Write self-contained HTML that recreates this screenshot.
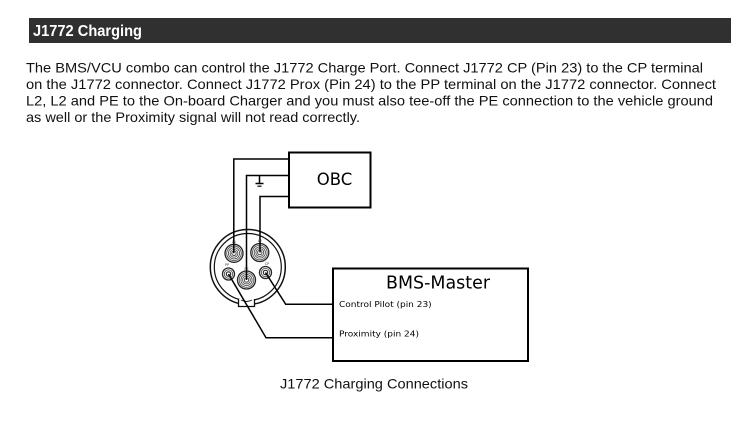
<!DOCTYPE html>
<html>
<head>
<meta charset="utf-8">
<style>
  html, body { margin: 0; padding: 0; background: #ffffff; }
  body { width: 755px; height: 435px; overflow: hidden; }
  svg { display: block; }
</style>
</head>
<body>
<svg width="755" height="435" viewBox="0 0 755 435" xmlns="http://www.w3.org/2000/svg">
  <rect x="0" y="0" width="755" height="435" fill="#ffffff"/>

  <!-- Header bar -->
  <rect x="29" y="18" width="702" height="25" fill="#303030"/>
  <text x="33" y="36" font-family="Liberation Sans, Arial, sans-serif" font-weight="bold" font-size="16" fill="#ffffff" textLength="109" lengthAdjust="spacingAndGlyphs">J1772 Charging</text>

  <!-- Body text -->
  <g font-family="Liberation Sans, Arial, sans-serif" font-size="14" fill="#111111">
    <text x="26" y="72.5" textLength="677" lengthAdjust="spacingAndGlyphs">The BMS/VCU combo can control the J1772 Charge Port. Connect J1772 CP (Pin 23) to the CP terminal</text>
    <text x="26" y="89" textLength="690" lengthAdjust="spacingAndGlyphs">on the J1772 connector. Connect J1772 Prox (Pin 24) to the PP terminal on the J1772 connector. Connect</text>
    <text x="26" y="105.5" textLength="687" lengthAdjust="spacingAndGlyphs">L2, L2 and PE to the On-board Charger and you must also tee-off the PE connection to the vehicle ground</text>
    <text x="26" y="122" textLength="334" lengthAdjust="spacingAndGlyphs">as well or the Proximity signal will not read correctly.</text>
  </g>

  <!-- OBC box -->
  <rect x="289" y="152.5" width="81.5" height="55" fill="#ffffff" stroke="#000" stroke-width="2"/>
  <text x="334.5" y="185" text-anchor="middle" font-family="DejaVu Sans, sans-serif" font-size="16.5" fill="#000">OBC</text>

  <!-- Connector body -->
  <circle cx="247.8" cy="267" r="37.5" fill="#ffffff" stroke="#111" stroke-width="1.5"/>
  <circle cx="247.8" cy="267" r="33.5" fill="none" stroke="#111" stroke-width="1.2"/>
  <!-- notch tab -->
  <path d="M238.5 299 L238.5 306.5 L254.5 306.5 L254.5 299" fill="#ffffff" stroke="#111" stroke-width="1.3"/>
  <path d="M241 300 Q246.5 303 252 300" fill="none" stroke="#111" stroke-width="0.9"/>

  <!-- Pins -->
  <g fill="#ffffff" stroke="#222">
    <!-- L1 -->
    <circle cx="234" cy="253.3" r="9" stroke-width="1.3"/>
    <circle cx="234" cy="253.3" r="7.3" stroke="#555" stroke-width="0.9"/>
    <circle cx="234" cy="253.3" r="5.6" stroke="#555" stroke-width="0.9"/>
    <circle cx="234" cy="253.3" r="3.9" stroke="#555" stroke-width="0.9"/>
    <circle cx="234" cy="253.3" r="2.2" stroke="#333" stroke-width="0.9"/>
    <!-- L2 -->
    <circle cx="259.8" cy="252.5" r="9" stroke-width="1.3"/>
    <circle cx="259.8" cy="252.5" r="7.3" stroke="#555" stroke-width="0.9"/>
    <circle cx="259.8" cy="252.5" r="5.6" stroke="#555" stroke-width="0.9"/>
    <circle cx="259.8" cy="252.5" r="3.9" stroke="#555" stroke-width="0.9"/>
    <circle cx="259.8" cy="252.5" r="2.2" stroke="#333" stroke-width="0.9"/>
    <!-- PE -->
    <circle cx="246.5" cy="280" r="9" stroke-width="1.3"/>
    <circle cx="246.5" cy="280" r="7.3" stroke="#555" stroke-width="0.9"/>
    <circle cx="246.5" cy="280" r="5.6" stroke="#555" stroke-width="0.9"/>
    <circle cx="246.5" cy="280" r="3.9" stroke="#555" stroke-width="0.9"/>
    <circle cx="246.5" cy="280" r="2.2" stroke="#333" stroke-width="0.9"/>
    <!-- PP -->
    <circle cx="228.5" cy="274" r="6" stroke-width="1.3"/>
    <circle cx="228.5" cy="274" r="4.2" stroke="#555" stroke-width="0.9"/>
    <circle cx="228.5" cy="274" r="2.2" stroke="#222" stroke-width="1.1"/>
    <!-- CP -->
    <circle cx="265.5" cy="272.5" r="6" stroke-width="1.3"/>
    <circle cx="265.5" cy="272.5" r="4.2" stroke="#555" stroke-width="0.9"/>
    <circle cx="265.5" cy="272.5" r="2.2" stroke="#222" stroke-width="1.1"/>
  </g>
  <!-- tiny pin labels -->
  <g font-family="DejaVu Sans, sans-serif" font-size="3.5" fill="#444" text-anchor="middle">
    <text x="234" y="243">L1</text>
    <text x="259.8" y="242">L2</text>
    <text x="246.5" y="270">PE</text>
    <text x="227" y="266">PP</text>
    <text x="267" y="265">CP</text>
  </g>

  <!-- Wires -->
  <g fill="none" stroke="#000" stroke-width="1.5">
    <polyline points="289,159 233.8,159 233.8,253.3"/>
    <polyline points="289,175.5 246.5,175.5 246.5,280"/>
    <polyline points="289,196.5 260,196.5 260,252.5"/>
    <!-- ground symbol -->
    <line x1="259.5" y1="175.5" x2="259.5" y2="183.5"/>
    <line x1="255.5" y1="183.5" x2="263.5" y2="183.5"/>
    <line x1="257.5" y1="186.2" x2="261.5" y2="186.2" stroke-width="1.2"/>
    <!-- CP wire -->
    <polyline points="265.5,272.5 285.7,304.3 333,304.3"/>
    <!-- PP wire -->
    <polyline points="228.5,274 266,337.7 333,337.7"/>
  </g>

  <!-- BMS-Master box -->
  <rect x="333" y="268.5" width="195" height="92.5" fill="none" stroke="#000" stroke-width="2"/>
  <text x="438" y="288.3" text-anchor="middle" font-family="DejaVu Sans, sans-serif" font-size="17.5" fill="#000" textLength="104" lengthAdjust="spacingAndGlyphs">BMS-Master</text>
  <text x="339" y="307" font-family="DejaVu Sans, sans-serif" font-size="8" fill="#000" textLength="92.7" lengthAdjust="spacingAndGlyphs">Control Pilot (pin 23)</text>
  <text x="339" y="336.7" font-family="DejaVu Sans, sans-serif" font-size="8" fill="#000" textLength="80" lengthAdjust="spacingAndGlyphs">Proximity (pin 24)</text>

  <!-- Caption -->
  <text x="280" y="388.3" font-family="Liberation Sans, Arial, sans-serif" font-size="14" fill="#111" textLength="188" lengthAdjust="spacingAndGlyphs">J1772 Charging Connections</text>
</svg>
</body>
</html>
